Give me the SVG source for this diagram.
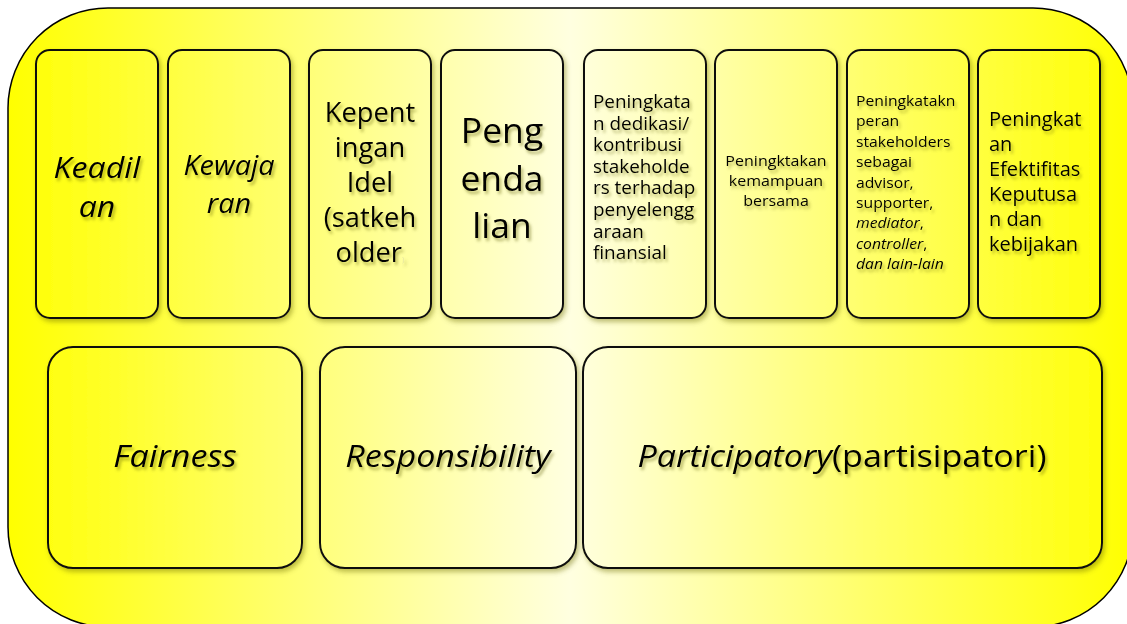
<svg xmlns="http://www.w3.org/2000/svg" width="1127" height="624" viewBox="0 0 1127 624">
<defs>
<linearGradient id="bg" gradientUnits="userSpaceOnUse" x1="8" y1="0" x2="1133" y2="0">
<stop offset="0" stop-color="#ffff00"/>
<stop offset="0.5" stop-color="#ffffe0"/>
<stop offset="1" stop-color="#ffff00"/>
</linearGradient>
<filter id="bs" x="-10%" y="-10%" width="125%" height="125%">
<feGaussianBlur in="SourceAlpha" stdDeviation="2.5"/>
<feOffset dx="2" dy="3" result="o"/>
<feFlood flood-color="#6b6b00" flood-opacity="0.45"/>
<feComposite in2="o" operator="in"/>
<feMerge><feMergeNode/><feMergeNode in="SourceGraphic"/></feMerge>
</filter>
<filter id="ts" x="-10%" y="-20%" width="130%" height="150%">
<feGaussianBlur in="SourceAlpha" stdDeviation="1.6"/>
<feOffset dx="2" dy="2.5" result="o"/>
<feFlood flood-color="#5a5a00" flood-opacity="0.45"/>
<feComposite in2="o" operator="in"/>
<feMerge><feMergeNode/><feMergeNode in="SourceGraphic"/></feMerge>
</filter>
</defs>
<style>
.box{fill:url(#bg);stroke:#111;stroke-width:2;filter:url(#bs)}
text{font-family:"Open Sans","Noto Sans","Liberation Sans",sans-serif;fill:#000;filter:url(#ts)}
.c{text-anchor:middle}
.i{font-style:italic}
</style>
<rect id="frame" x="8" y="8" width="1125" height="619" rx="100" ry="100" fill="url(#bg)" stroke="#000" stroke-width="1.5"/>
<g id="connectors"></g>
<g id="n-keadilan">
<rect class="box" x="36" y="50" width="122" height="268" rx="14"/>
<text class="c i" font-size="30" transform="matrix(1.07,0,0,1,-6.79,0)"><tspan x="97" y="178">Keadil</tspan><tspan x="97" y="217">an</tspan></text>
</g>
<g id="n-kewajaran">
<rect class="box" x="168" y="50" width="122" height="268" rx="14"/>
<text class="c i" font-size="26.5" transform="matrix(1.09,0,0,1,-20.61,0)"><tspan x="229" y="175">Kewaja</tspan><tspan x="229" y="213">ran</tspan></text>
</g>
<g id="n-kepentingan">
<rect class="box" x="309" y="50" width="122" height="268" rx="14"/>
<text class="c" font-size="26.5" transform="matrix(1.03,0,0,1,-11.1,0)"><tspan x="370" y="122">Kepent</tspan><tspan x="370" y="157">ingan</tspan><tspan x="370" y="192">Idel</tspan><tspan x="370" y="227">(satkeh</tspan><tspan x="370" y="262">older<tspan font-size="8" fill="#e6e6a0">)</tspan></tspan></text>
</g>
<g id="n-pengendalian">
<rect class="box" x="441" y="50" width="122" height="268" rx="14"/>
<text class="c" font-size="35.5"><tspan x="502" y="143">Peng</tspan><tspan x="502" y="191">enda</tspan><tspan x="502" y="238">lian</tspan></text>
</g>
<g id="n-dedikasi">
<rect class="box" x="584" y="50" width="122" height="268" rx="14"/>
<text font-size="17.5" transform="matrix(1.08,0,0,1,-47.44,0)"><tspan x="593" y="108">Peningkata</tspan><tspan x="593" y="129.6">n dedikasi/</tspan><tspan x="593" y="151.2">kontribusi</tspan><tspan x="593" y="172.8">stakeholde</tspan><tspan x="593" y="194.4">rs terhadap</tspan><tspan x="593" y="216">penyelengg</tspan><tspan x="593" y="237.6">araan</tspan><tspan x="593" y="259.2">finansial</tspan></text>
</g>
<g id="n-kemampuan">
<rect class="box" x="715" y="50" width="122" height="268" rx="14"/>
<text class="c" font-size="15" transform="matrix(1.07,0,0,1,-54.32,0)"><tspan x="776" y="166">Peningktakan</tspan><tspan x="776" y="186">kemampuan</tspan><tspan x="776" y="206">bersama</tspan></text>
</g>
<g id="n-peran">
<rect class="box" x="847" y="50" width="122" height="268" rx="14"/>
<text font-size="15" transform="matrix(1.05,0,0,1,-42.8,0)"><tspan x="856" y="106">Peningkatakn</tspan><tspan x="856" y="126.4">peran</tspan><tspan x="856" y="146.8">stakeholders</tspan><tspan x="856" y="167.2">sebagai</tspan><tspan x="856" y="187.6">advisor,</tspan><tspan x="856" y="208">supporter,</tspan><tspan x="856" y="228.4"><tspan class="i">mediator</tspan>,</tspan><tspan x="856" y="248.8"><tspan class="i">controller</tspan>,</tspan><tspan x="856" y="269.2" class="i">dan lain-lain</tspan></text>
</g>
<g id="n-efektifitas">
<rect class="box" x="978" y="50" width="122" height="268" rx="14"/>
<text font-size="20"><tspan x="989" y="126">Peningkat</tspan><tspan x="989" y="151">an</tspan><tspan x="989" y="176">Efektifitas</tspan><tspan x="989" y="201">Keputusa</tspan><tspan x="989" y="226">n dan</tspan><tspan x="989" y="251">kebijakan</tspan></text>
</g>
<g id="n-fairness">
<rect class="box" x="48" y="347" width="254" height="221" rx="25"/>
<text class="c i" x="175" y="467" font-size="31" transform="matrix(1.1,0,0,1,-17.5,0)">Fairness</text>
</g>
<g id="n-responsibility">
<rect class="box" x="320" y="347" width="256" height="221" rx="25"/>
<text class="c i" x="448" y="467" font-size="31" transform="matrix(1.1,0,0,1,-44.8,0)">Responsibility</text>
</g>
<g id="n-participatory">
<rect class="box" x="583" y="347" width="519" height="221" rx="25"/>
<text class="c" x="842" y="467" font-size="31" transform="matrix(1.1,0,0,1,-84.2,0)"><tspan class="i">Participatory</tspan>(partisipatori)</text>
</g>
</svg>
